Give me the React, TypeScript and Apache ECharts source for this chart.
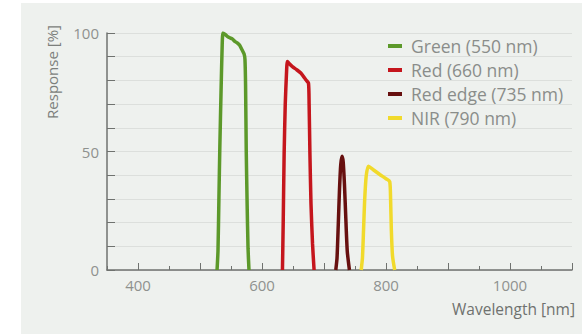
import React, { useEffect, useRef } from "react";
import * as echarts from "echarts";

const seriesNames = ["Green (550 nm)", "Red (660 nm)", "Red edge (735 nm)", "NIR (790 nm)"];
const seriesColors = ["#5c992a", "#c5161d", "#67100f", "#f1da2b"];

const greenData: number[][] = [
  [527.5, 0], [529, 8], [530.5, 30], [532, 52], [534, 76], [535.8, 95], [537, 100],
  [540, 99.5], [544, 98.6], [548, 98], [552, 97.5], [556, 96.5], [560, 95.8],
  [564, 94.8], [568, 92.8], [571, 91.2], [572.5, 89], [573.5, 78], [574.6, 50],
  [576, 28], [577.5, 9], [579, 0],
];
const redData: number[][] = [
  [633, 0], [634.2, 20], [635.7, 49], [637.5, 70], [639.5, 83], [641, 88],
  [645, 86.8], [649, 85.8], [656, 84.5], [663, 83], [667, 81.6], [671, 80.2],
  [675, 78.8], [676, 70], [677.3, 49], [679, 28], [681.5, 11], [684, 0],
];
const redEdgeData: number[][] = [
  [719, 0], [721, 5], [723, 19], [725, 34], [727, 44.5], [729.2, 48],
  [731, 45.5], [733, 36], [735, 23], [737.5, 8], [741, 0],
];
const nirData: number[][] = [
  [760, 0], [762, 5], [763.8, 17], [765.5, 29], [768, 39.5], [771.5, 43.8],
  [780, 42.2], [790, 40.3], [800, 38.5], [806, 37.3], [807.4, 30], [808.6, 17],
  [810.5, 6], [814, 0],
];
const allData = [greenData, redData, redEdgeData, nirData];

const xMajorTicks = [400, 500, 600, 700, 800, 900, 1000, 1100];
const xLabels = [400, 600, 800, 1000];
const yLabels = [0, 50, 100];

export default function App() {
  const ref = useRef<HTMLDivElement>(null);
  useEffect(() => {
    if (!ref.current) return;
    const chart = echarts.init(ref.current, undefined, { renderer: "svg" });
    const font = "'Open Sans', 'Noto Sans', sans-serif";
    const tickColor = "#8e918e";
    chart.setOption({
      animation: false,
      backgroundColor: "#ffffff",
      textStyle: { fontFamily: font },
      graphic: [
        {
          type: "rect",
          z: -100,
          shape: { x: 21, y: 3, width: 561, height: 331 },
          style: { fill: "#eef1ee" },
          silent: true,
        },
        {
          type: "text",
          x: 52,
          y: 72,
          rotation: Math.PI / 2,
          style: {
            text: "Response [%]",
            fontSize: 15,
            fontFamily: font,
            fill: "#7c7f7c",
            align: "center",
            verticalAlign: "middle",
          },
        },
        {
          type: "text",
          x: 575,
          y: 309,
          style: {
            text: "Wavelength [nm]",
            fontSize: 15.5,
            fontFamily: font,
            fill: "#6f726f",
            align: "right",
            verticalAlign: "middle",
          },
        },
      ],
      grid: { left: 107, right: 10, top: 33, bottom: 64, containLabel: false },
      legend: {
        orient: "vertical",
        left: 383,
        top: 31,
        itemWidth: 14,
        itemHeight: 4,
        itemGap: 4,
        icon: "rect",
        data: seriesNames,
        textStyle: {
          fontSize: 17.5,
          lineHeight: 20,
          color: "#8a8d8a",
          fontFamily: font,
          padding: [0, 0, 0, 4],
        },
      },
      xAxis: [
        {
          type: "value",
          min: 350,
          max: 1100,
          interval: 50,
          position: "bottom",
          axisLine: { show: true, lineStyle: { color: "#6f726f", width: 1.5 } },
          axisTick: { show: true, inside: true, length: 4, lineStyle: { color: "#6f726f" } },
          axisLabel: { show: false },
          splitLine: { show: false },
        },
        {
          type: "value",
          min: 350,
          max: 1100,
          position: "bottom",
          axisLine: { show: false },
          axisTick: {
            show: true,
            inside: true,
            length: 7,
            customValues: xMajorTicks,
            lineStyle: { color: "#6f726f" },
          },
          axisLabel: {
            show: true,
            customValues: xLabels,
            margin: 7,
            fontSize: 15,
            color: tickColor,
            fontFamily: font,
            formatter: (v: number) => String(v),
          },
          splitLine: { show: false },
        },
      ],
      yAxis: {
        type: "value",
        min: 0,
        max: 100,
        interval: 10,
        axisLine: { show: true, lineStyle: { color: "#6f726f", width: 1.5 } },
        axisTick: { show: true, inside: true, length: 8, lineStyle: { color: "#6f726f" } },
        axisLabel: {
          margin: 8,
          fontSize: 15,
          color: tickColor,
          fontFamily: font,
          formatter: (v: number) => (yLabels.includes(v) ? String(v) : ""),
        },
        splitLine: { show: true, lineStyle: { color: "#dcdfdc", width: 1 } },
      },
      series: allData.map((d, i) => ({
        name: seriesNames[i],
        type: "line",
        xAxisIndex: 0,
        data: d,
        showSymbol: false,
        symbol: "none",
        smooth: 0.2,
        itemStyle: { color: seriesColors[i] },
        lineStyle: { color: seriesColors[i], width: 3.5 },
      })),
    });
    return () => chart.dispose();
  }, []);
  return (
    <div
      ref={ref}
      style={{ position: "fixed", left: 0, top: 0, width: 582, height: 334 }}
    />
  );
}
